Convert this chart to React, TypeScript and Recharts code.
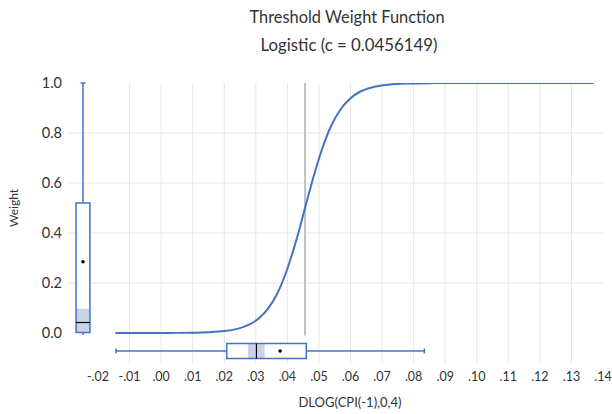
import {
  ComposedChart,
  Line,
  ReferenceArea,
  ReferenceDot,
  ReferenceLine,
  XAxis,
  YAxis
} from "recharts";

const TITLE = "Threshold Weight Function";
const SUBTITLE = "Logistic (c = 0.0456149)";
const X_LABEL = "DLOG(CPI(-1),0,4)";
const Y_LABEL = "Weight";

const THRESHOLD = 0.0456149;

// logistic weight curve
const CURVE_X = [
  -0.0145, -0.01, -0.005, 0, 0.005, 0.01, 0.015, 0.02, 0.025, 0.028, 0.031,
  0.034, 0.037, 0.04, 0.043, 0.0456, 0.048, 0.051, 0.054, 0.057, 0.06, 0.063,
  0.067, 0.072, 0.078, 0.085, 0.095, 0.105, 0.115, 0.125, 0.137
];
const CURVE_W = [
  0, 0, 0.0001, 0.0002, 0.0005, 0.0012, 0.003, 0.0077, 0.0196, 0.0341, 0.0587,
  0.0994, 0.163, 0.257, 0.379, 0.5, 0.612, 0.736, 0.832, 0.897, 0.939, 0.965,
  0.983, 0.9934, 0.9979, 0.9994, 0.9999, 1, 1, 1, 1
];

const X_TICKS = [
  -0.02, -0.01, 0, 0.01, 0.02, 0.03, 0.04, 0.05, 0.06, 0.07, 0.08, 0.09, 0.1,
  0.11, 0.12, 0.13, 0.14
];
const Y_TICKS = [0, 0.2, 0.4, 0.6, 0.8, 1];
const GRID_X = [
  -0.01, 0, 0.01, 0.02, 0.03, 0.04, 0.05, 0.06, 0.07, 0.08, 0.09, 0.1, 0.11,
  0.12, 0.13
];
const GRID_Y = [0.2, 0.4, 0.6, 0.8];

// box plot of the weights: min, q1, median, q3, max
const W_BOX = [0, 0.002, 0.042, 0.52, 1];
const W_MEAN = 0.285;
const W_CI = [0.002, 0.097];

// box plot of the threshold variable
const X_BOX = [-0.0143, 0.0208, 0.0302, 0.046, 0.0834];
const X_MEAN = 0.0377;
const X_CI = [0.0275, 0.0328];

// where the marginal boxes sit (data units)
const W_BOX_AT = -0.02475;
const W_BOX_HALF = 0.0022;
const W_CAP_HALF = 0.0008;
const X_BOX_AT = -0.072;
const X_BOX_HALF = 0.03;
const X_CAP_HALF = 0.01;

const BLUE = "#4472C4";
const SHADE = "#C9D3E8";
const GRID = "#E6E6E6";
const TEXT = "#333333";
const FONT = "Lato, 'Open Sans', sans-serif";

const data = CURVE_X.map((x, i) => ({ x, w: CURVE_W[i] }));

const fmtX = (v: number) => {
  const s = v.toFixed(2);
  return s.replace(/^(-?)0\./, "$1.");
};

export default function App() {
  const [wMin, wQ1, wMed, wQ3, wMax] = W_BOX;
  const [xMin, xQ1, xMed, xQ3, xMax] = X_BOX;
  const wl = W_BOX_AT - W_BOX_HALF;
  const wr = W_BOX_AT + W_BOX_HALF;
  const xb = X_BOX_AT - X_BOX_HALF;
  const xt = X_BOX_AT + X_BOX_HALF;

  return (
    <div
      style={{
        position: "absolute",
        left: 0,
        top: 0,
        width: 612,
        height: 414,
        background: "#fff",
        fontFamily: FONT,
        color: TEXT
      }}
    >
      <div
        style={{
          position: "absolute",
          left: 347,
          top: 17,
          transform: "translate(-50%, -50%)",
          fontSize: 16.4,
          whiteSpace: "nowrap",
          lineHeight: 1
        }}
      >
        {TITLE}
      </div>
      <div
        style={{
          position: "absolute",
          left: 349,
          top: 45,
          transform: "translate(-50%, -50%)",
          fontSize: 16.8,
          whiteSpace: "nowrap",
          lineHeight: 1
        }}
      >
        {SUBTITLE}
      </div>
      <div
        style={{
          position: "absolute",
          left: 350,
          top: 402,
          transform: "translate(-50%, -50%)",
          fontSize: 13,
          whiteSpace: "nowrap",
          lineHeight: 1
        }}
      >
        {X_LABEL}
      </div>
      <div
        style={{
          position: "absolute",
          left: 14,
          top: 208,
          transform: "translate(-50%, -50%) rotate(-90deg)",
          fontSize: 12,
          whiteSpace: "nowrap",
          lineHeight: 1
        }}
      >
        {Y_LABEL}
      </div>

      <ComposedChart
        width={612}
        height={414}
        data={data}
        margin={{ top: 83, right: 9, bottom: 0, left: 0 }}
      >
        <XAxis
          dataKey="x"
          type="number"
          domain={[-0.0295, 0.14]}
          allowDataOverflow
          ticks={X_TICKS}
          interval={0}
          tickFormatter={fmtX}
          axisLine={false}
          tickLine={false}
          tickSize={0}
          tickMargin={9}
          height={51}
          tick={{ fontSize: 12.5, fill: TEXT, fontFamily: FONT }}
        />
        <YAxis
          type="number"
          domain={[-0.12, 1]}
          allowDataOverflow
          ticks={Y_TICKS}
          interval={0}
          tickFormatter={(v: number) => v.toFixed(1)}
          axisLine={false}
          tickLine={false}
          tickSize={0}
          tickMargin={6}
          width={68}
          tick={{ fontSize: 14.5, fill: TEXT, fontFamily: FONT }}
        />

        {GRID_X.map((v) => (
          <ReferenceLine key={`gx${v}`} x={v} stroke={GRID} strokeWidth={1} zIndex={-100} />
        ))}
        {GRID_Y.map((v) => (
          <ReferenceLine key={`gy${v}`} y={v} stroke={GRID} strokeWidth={1} zIndex={-100} />
        ))}

        <ReferenceLine
          segment={[
            { x: THRESHOLD, y: -0.01 },
            { x: THRESHOLD, y: 1 }
          ]}
          stroke="#BFBFBF"
          strokeWidth={2}
          zIndex={300}
        />

        <Line
          dataKey="w"
          type="monotone"
          stroke={BLUE}
          strokeWidth={2}
          dot={false}
          activeDot={false}
          isAnimationActive={false}
          zIndex={400}
        />

        {/* weight box plot, upright on the left */}
        <ReferenceLine
          segment={[
            { x: W_BOX_AT, y: wQ3 },
            { x: W_BOX_AT, y: wMax }
          ]}
          stroke={BLUE}
          strokeWidth={1.5}
          zIndex={500}
        />
        <ReferenceLine
          segment={[
            { x: W_BOX_AT - W_CAP_HALF, y: wMax },
            { x: W_BOX_AT + W_CAP_HALF, y: wMax }
          ]}
          stroke={BLUE}
          strokeWidth={1.5}
          zIndex={500}
        />
        <ReferenceLine
          segment={[
            { x: W_BOX_AT, y: wMin - 0.008 },
            { x: W_BOX_AT, y: wQ1 }
          ]}
          stroke={BLUE}
          strokeWidth={1.5}
          zIndex={500}
        />
        <ReferenceArea
          x1={wl}
          x2={wr}
          y1={wQ1}
          y2={wQ3}
          fill="#ffffff"
          fillOpacity={1}
          stroke="none"
          zIndex={510}
        />
        <ReferenceArea
          x1={wl}
          x2={wr}
          y1={W_CI[0]}
          y2={W_CI[1]}
          fill={SHADE}
          fillOpacity={1}
          stroke="none"
          zIndex={520}
        />
        <ReferenceArea
          x1={wl}
          x2={wr}
          y1={wQ1}
          y2={wQ3}
          fill="none"
          fillOpacity={0}
          stroke={BLUE}
          strokeWidth={1.5}
          zIndex={530}
        />
        <ReferenceLine
          segment={[
            { x: wl, y: wMed },
            { x: wr, y: wMed }
          ]}
          stroke="#000"
          strokeWidth={1.2}
          zIndex={540}
        />
        <ReferenceDot
          x={W_BOX_AT}
          y={W_MEAN}
          r={1.8}
          fill="#000"
          stroke="none"
          zIndex={550}
        />

        {/* threshold variable box plot, along the bottom */}
        <ReferenceLine
          segment={[
            { x: xMin, y: X_BOX_AT },
            { x: xQ1, y: X_BOX_AT }
          ]}
          stroke={BLUE}
          strokeWidth={1.5}
          zIndex={500}
        />
        <ReferenceLine
          segment={[
            { x: xQ3, y: X_BOX_AT },
            { x: xMax, y: X_BOX_AT }
          ]}
          stroke={BLUE}
          strokeWidth={1.5}
          zIndex={500}
        />
        <ReferenceLine
          segment={[
            { x: xMin, y: X_BOX_AT - X_CAP_HALF },
            { x: xMin, y: X_BOX_AT + X_CAP_HALF }
          ]}
          stroke={BLUE}
          strokeWidth={1.5}
          zIndex={500}
        />
        <ReferenceLine
          segment={[
            { x: xMax, y: X_BOX_AT - X_CAP_HALF },
            { x: xMax, y: X_BOX_AT + X_CAP_HALF }
          ]}
          stroke={BLUE}
          strokeWidth={1.5}
          zIndex={500}
        />
        <ReferenceArea
          x1={xQ1}
          x2={xQ3}
          y1={xb}
          y2={xt}
          fill="#ffffff"
          fillOpacity={1}
          stroke="none"
          zIndex={510}
        />
        <ReferenceArea
          x1={X_CI[0]}
          x2={X_CI[1]}
          y1={xb}
          y2={xt}
          fill={SHADE}
          fillOpacity={1}
          stroke="none"
          zIndex={520}
        />
        <ReferenceArea
          x1={xQ1}
          x2={xQ3}
          y1={xb}
          y2={xt}
          fill="none"
          fillOpacity={0}
          stroke={BLUE}
          strokeWidth={1.5}
          zIndex={530}
        />
        <ReferenceLine
          segment={[
            { x: xMed, y: xb },
            { x: xMed, y: xt }
          ]}
          stroke="#000"
          strokeWidth={1.2}
          zIndex={540}
        />
        <ReferenceDot
          x={X_MEAN}
          y={X_BOX_AT}
          r={1.8}
          fill="#000"
          stroke="none"
          zIndex={550}
        />
      </ComposedChart>
    </div>
  );
}
